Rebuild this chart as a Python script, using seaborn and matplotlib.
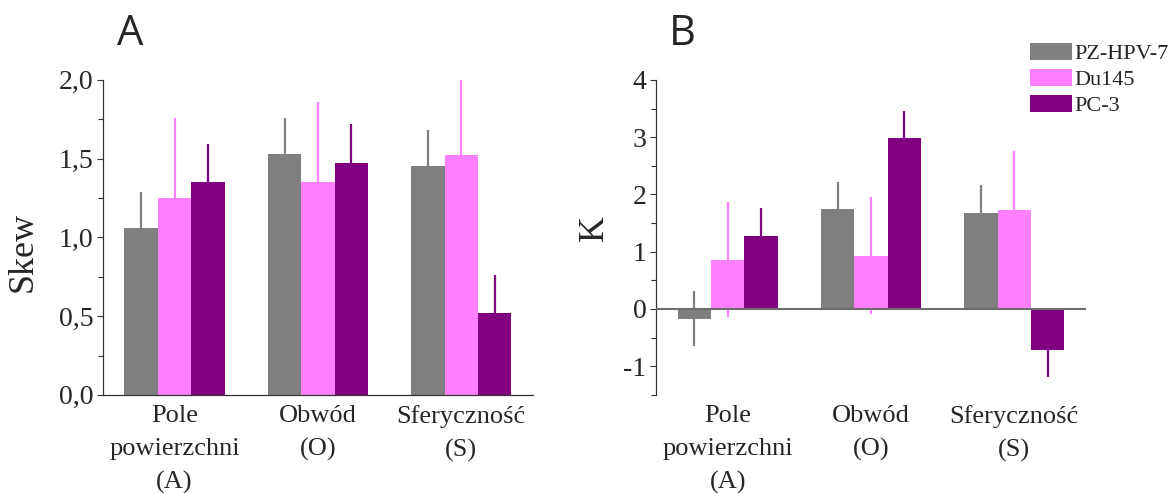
import pandas as pd
import matplotlib
matplotlib.use('Agg')
import matplotlib.pyplot as plt
import seaborn as sns
from matplotlib.ticker import MultipleLocator, FuncFormatter

# --- data ---
categories = ["Pole\npowierzchni\n(A)", "Obwód\n(O)", "Sferyczność\n(S)"]
cell_lines = ["PZ-HPV-7", "Du145", "PC-3"]
colors = ["#808080", "#FF80FF", "#800080"]

# panel A: Skew (mean, sd) per cell line, per category
skew_pz = [1.06, 1.53, 1.45]
skew_du = [1.25, 1.35, 1.52]
skew_pc = [1.35, 1.47, 0.52]
skew_err_pz = [0.23, 0.23, 0.23]
skew_err_du = [0.51, 0.51, 0.48]
skew_err_pc = [0.24, 0.25, 0.24]

# panel B: K (kurtosis)
k_pz = [-0.17, 1.75, 1.68]
k_du = [0.86, 0.93, 1.73]
k_pc = [1.28, 2.98, -0.71]
k_err_pz = [0.48, 0.47, 0.48]
k_err_du = [1.00, 1.02, 1.02]
k_err_pc = [0.49, 0.48, 0.47]


def long_df(vals):
    rows = []
    for line, v in zip(cell_lines, vals):
        for cat, x in zip(categories, v):
            rows.append({"cat": cat, "line": line, "val": x})
    return pd.DataFrame(rows)


sns.set_style("white")
plt.rcParams['font.family'] = ['Liberation Serif', 'DejaVu Serif']
plt.rcParams['axes.unicode_minus'] = False

fig = plt.figure(figsize=(11.7, 4.93), dpi=100)
axA = fig.add_axes([0.088, 0.199, 0.3675, 0.639])
axB = fig.add_axes([0.5607, 0.199, 0.3675, 0.639])


def draw_panel(ax, vals, errs, legend):
    df = long_df(vals)
    sns.barplot(data=df, x="cat", y="val", hue="line", order=categories,
                hue_order=cell_lines, palette=colors, width=0.7,
                errorbar=None, saturation=1, ax=ax, legend=legend,
                linewidth=0, zorder=2)
    # error bars sit behind the bars, so only the part outside shows
    for cont, err, c in zip(ax.containers, errs, colors):
        xs = [b.get_x() + b.get_width() / 2 for b in cont]
        ys = [b.get_height() for b in cont]
        ax.errorbar(xs, ys, yerr=err, fmt='none', ecolor=c, elinewidth=1.6,
                    capsize=0, zorder=1, clip_on=False)
    ax.set_xlim(-0.5, 2.5)
    ax.set_xlabel("")
    ax.tick_params(axis='x', length=0, labelsize=19, pad=7)
    plt.setp(ax.get_xticklabels(), linespacing=1.65, va='top')
    ax.tick_params(axis='y', which='both', direction='out', left=True,
                   labelsize=20, pad=3, width=0.8, color='#333333')
    ax.tick_params(axis='y', which='major', length=4)
    ax.tick_params(axis='y', which='minor', length=3.5)
    sns.despine(ax=ax)
    ax.spines['left'].set_color('#333333')
    ax.spines['bottom'].set_color('#333333')
    ax.spines['left'].set_linewidth(0.9)
    ax.spines['bottom'].set_linewidth(0.9)


draw_panel(axA, [skew_pz, skew_du, skew_pc],
           [skew_err_pz, skew_err_du, skew_err_pc], False)
axA.set_ylim(0, 2.0)
axA.yaxis.set_major_locator(MultipleLocator(0.5))
axA.yaxis.set_minor_locator(MultipleLocator(0.25))
axA.yaxis.set_major_formatter(FuncFormatter(lambda v, p: f"{v:.1f}".replace('.', ',')))
axA.set_ylabel("Skew", fontsize=26)
axA.yaxis.label.set_va('center')
axA.yaxis.set_label_coords(-0.186, 0.454)

draw_panel(axB, [k_pz, k_du, k_pc], [k_err_pz, k_err_du, k_err_pc], True)
axB.set_ylim(-1.5, 4)
axB.yaxis.set_major_locator(MultipleLocator(1))
axB.yaxis.set_minor_locator(MultipleLocator(0.5))
axB.spines['bottom'].set_visible(False)
axB.axhline(0, color='#6e6e6e', lw=1.5, zorder=3)
axB.set_ylabel("K", fontsize=26)
axB.yaxis.label.set_va('center')
axB.yaxis.set_label_coords(-0.142, 0.53)

axB.legend(loc='upper left', bbox_to_anchor=(0.880, 0.912),
           bbox_transform=fig.transFigure, frameon=False,
           fontsize=16, handlelength=1.9, handleheight=0.78,
           handletextpad=0.1, labelspacing=0.22, borderaxespad=0, borderpad=0)

fig.text(0.100, 0.909, "A", fontsize=30, family='Open Sans', va='baseline')
fig.text(0.572, 0.909, "B", fontsize=30, family='Open Sans', va='baseline')

plt.savefig("out.png", dpi=100)
plt.close()
